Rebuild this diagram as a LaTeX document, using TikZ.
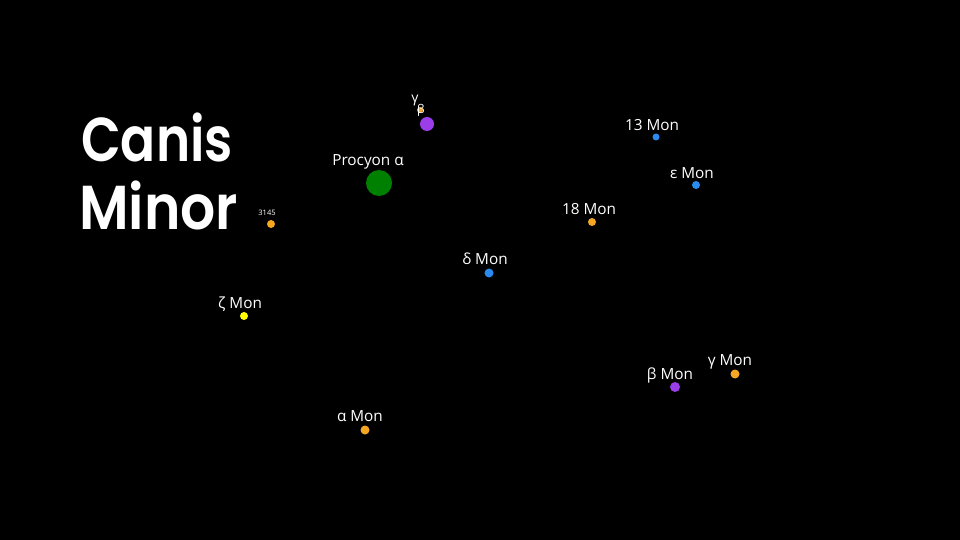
\documentclass[tikz,border=0pt]{standalone}
\usepackage{fontspec}
\setmainfont{Open Sans}
\newfontfamily\titlefont{Poppins}[BoldFont={* SemiBold}]
\definecolor{starorange}{HTML}{F5A623}
\definecolor{starblue}{HTML}{2A8AF0}
\definecolor{starpurple}{HTML}{9B3DE8}
\definecolor{stargreen}{HTML}{008000}
\definecolor{staryellow}{HTML}{FFFF00}
\tikzset{
  star/.style={circle,inner sep=0pt,draw=none},
  lbl/.style={text=white,font=\fontsize{15.3}{15}\selectfont,inner sep=0pt,anchor=base,yshift=-1.5pt},
  tiny/.style={text=white,font=\fontsize{7.5}{7.5}\selectfont,inner sep=0pt,anchor=base},
  titletext/.style={text=white,anchor=base west,inner sep=0pt,font=\titlefont\bfseries\fontsize{62}{62}\selectfont},
}
\begin{document}
\begin{tikzpicture}[x=1pt,y=-1pt]
\fill[black] (0,0) rectangle (960,540);
\useasboundingbox (0,0) rectangle (960,540);
% title
\node[titletext] (t1) at (81,162) {\scalebox{0.835}[1]{Canis}};
\node[titletext] (t2) at (79,229) {\scalebox{0.89}[1]{Minor}};
% stars
\node[star,fill=stargreen,minimum size=26] (procyon) at (379,183) {};
\node[lbl] (lprocyon) at (368,164) {Procyon α};
\node[star,fill=starpurple,minimum size=14] (beta) at (427,124) {};
\node[star,fill=starorange,minimum size=6] (gamma) at (420,110) {};
\node[lbl,font=\fontsize{14}{14}\selectfont] (lgamma) at (415,101) {γ};
\node[lbl,font=\fontsize{12}{12}\selectfont] (lbeta) at (421,112) {β};
\node[star,fill=starorange,minimum size=8] (s3145) at (271,224) {};
\node[tiny] (l3145) at (267,215) {3145};
\node[star,fill=starblue,minimum size=7] (m13) at (656,137) {};
\node[lbl] (lm13) at (652,129) {13 Mon};
\node[star,fill=starblue,minimum size=8] (eps) at (696,185) {};
\node[lbl] (leps) at (692,177) {ε Mon};
\node[star,fill=starorange,minimum size=8] (m18) at (592,222) {};
\node[lbl] (lm18) at (589,213) {18 Mon};
\node[star,fill=starblue,minimum size=9] (delta) at (489,273) {};
\node[lbl] (ldelta) at (485,263) {δ Mon};
\node[star,fill=staryellow,minimum size=8] (zeta) at (244,316) {};
\node[lbl] (lzeta) at (240,307) {ζ Mon};
\node[star,fill=starorange,minimum size=9] (alpha) at (365,430) {};
\node[lbl] (lalpha) at (360,420) {α Mon};
\node[star,fill=starpurple,minimum size=10] (betam) at (675,387) {};
\node[lbl] (lbetam) at (670,378) {β Mon};
\node[star,fill=starorange,minimum size=9] (gammam) at (735,374) {};
\node[lbl] (lgammam) at (730,364) {γ Mon};
\end{tikzpicture}
\end{document}
